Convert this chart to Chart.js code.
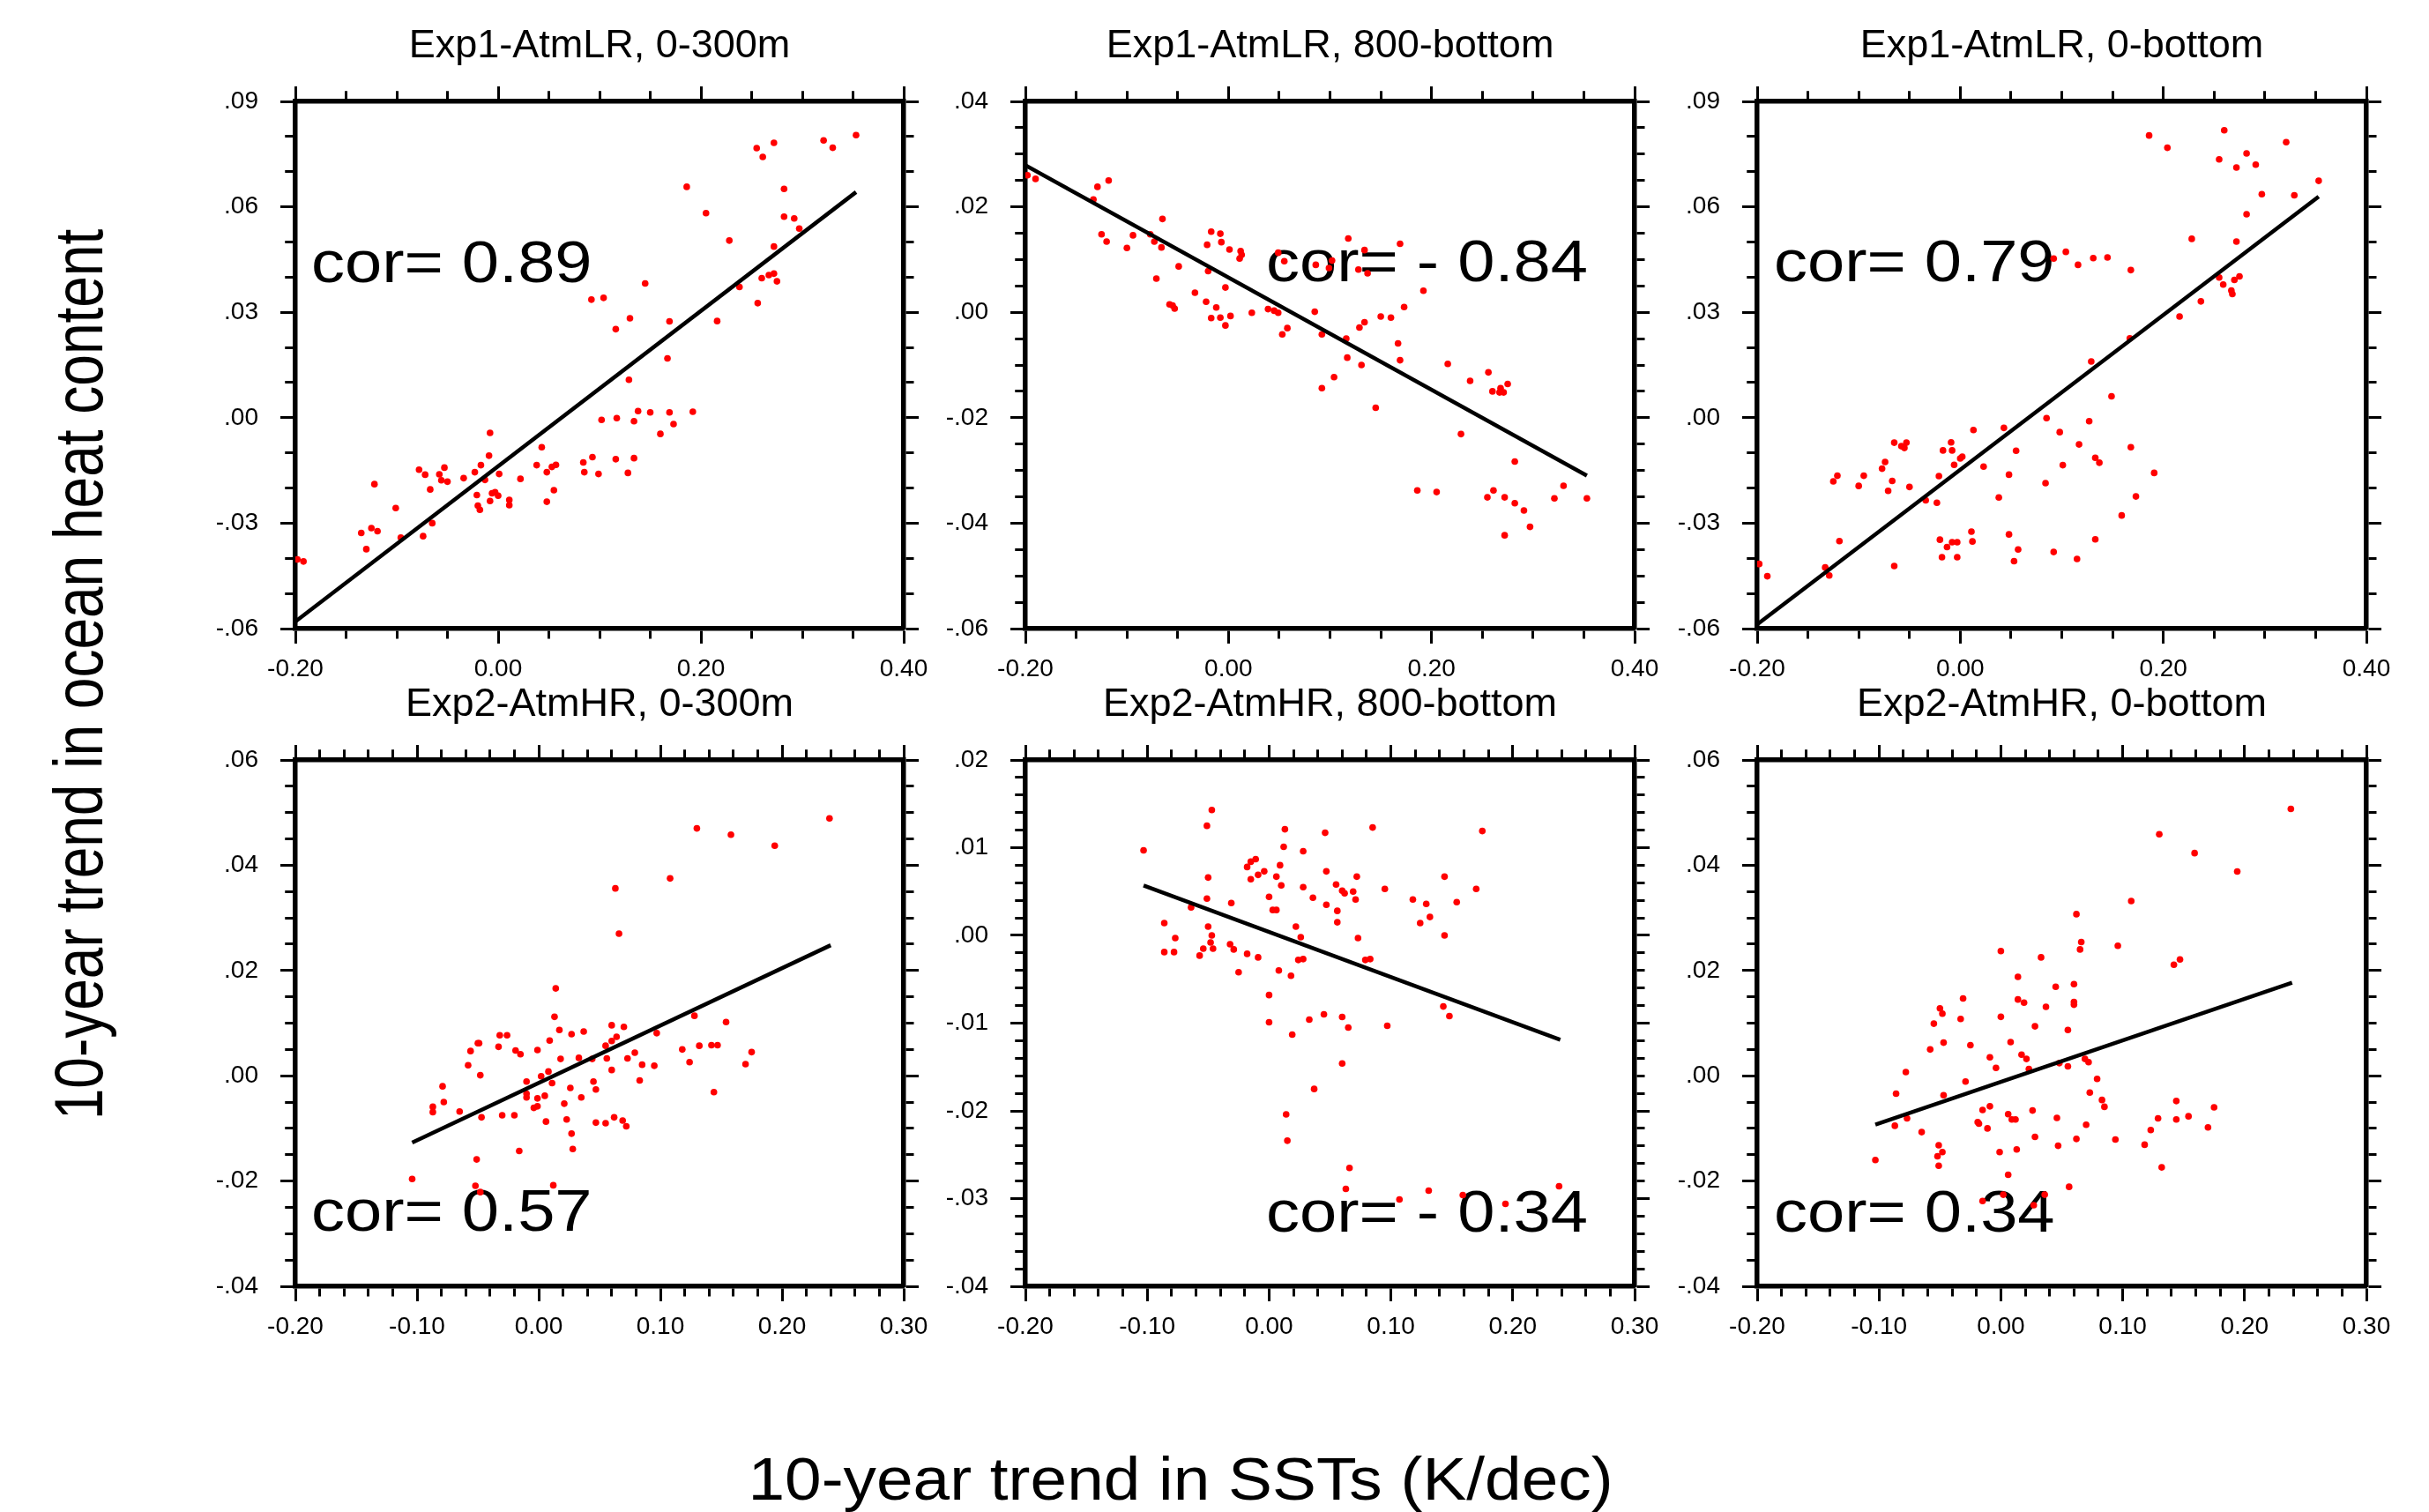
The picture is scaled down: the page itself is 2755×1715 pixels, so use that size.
<!DOCTYPE html>
<html>
<head>
<meta charset="utf-8">
<title>OHC vs SST trends</title>
<script src="https://cdn.jsdelivr.net/npm/chart.js@4.4.1/dist/chart.umd.min.js"></script>
<style>
  html, body { margin: 0; padding: 0; background: #fff; }
  #page { position: relative; width: 2755px; height: 1715px; overflow: hidden; font-family: "Liberation Sans", Arial, sans-serif; }
  .panel { position: absolute; }
  .axis-label { position: absolute; white-space: nowrap; line-height: 1; color: #000; }
  #yLabel { left: 89px; top: 765px; font-size: 64px; transform: translate(-50%, -50%) rotate(-90deg) scaleY(1.22); }
  #xLabel { left: 1339px; top: 1677px; font-size: 68px; transform: translate(-50%, -50%) scaleX(1.1); }
</style>
</head>
<body>
<div id="page">
  <div class="axis-label" id="yLabel">10-year trend in ocean heat content</div>
  <div class="axis-label" id="xLabel">10-year trend in SSTs (K/dec)</div>
</div>
<script>
// Panel titles and correlation labels
const panelTitles = ['Exp1-AtmLR, 0-300m', 'Exp1-AtmLR, 800-bottom', 'Exp1-AtmLR, 0-bottom',
                     'Exp2-AtmHR, 0-300m', 'Exp2-AtmHR, 800-bottom', 'Exp2-AtmHR, 0-bottom'];
const corLabels = ['cor= 0.89', 'cor= - 0.84', 'cor= 0.79', 'cor= 0.57', 'cor= - 0.34', 'cor= 0.34'];

// Exp1-AtmLR, 0-300m
const lrShallowX = [-0.198,-0.192,-0.135,-0.130,-0.125,-0.119,-0.122,-0.101,-0.096,-0.074,
  -0.065,-0.078,-0.072,-0.067,-0.058,-0.053,-0.056,-0.050,-0.034,-0.023,
  -0.017,-0.009,-0.008,-0.013,-0.021,-0.020,-0.018,-0.008,-0.006,-0.003,
  0.000,0.001,0.011,0.011,0.022,0.038,0.043,0.048,0.053,0.057,
  0.055,0.048,0.084,0.085,0.093,0.099,0.102,0.116,0.117,0.128,
  0.134,0.134,0.138,0.150,0.160,0.169,0.173,0.192,0.167,0.129,
  0.116,0.130,0.092,0.104,0.145,0.169,0.216,0.238,0.256,0.260,
  0.267,0.272,0.275,0.272,0.228,0.205,0.186,0.282,0.282,0.292,
  0.297,0.255,0.261,0.272,0.321,0.330,0.353];
const lrShallowY = [-0.0403,-0.0409,-0.0328,-0.0374,-0.0314,-0.0323,-0.0189,-0.0257,-0.0341,-0.0337,
  -0.0300,-0.0148,-0.0162,-0.0204,-0.0161,-0.0142,-0.0178,-0.0182,-0.0172,-0.0155,
  -0.0135,-0.0108,-0.0043,-0.0177,-0.0220,-0.0250,-0.0262,-0.0237,-0.0215,-0.0212,
  -0.0222,-0.0160,-0.0234,-0.0249,-0.0174,-0.0135,-0.0084,-0.0155,-0.0140,-0.0134,
  -0.0206,-0.0239,-0.0127,-0.0155,-0.0112,-0.0160,-0.0006,-0.0118,-0.0001,-0.0157,
  -0.0115,-0.0010,0.0019,0.0015,-0.0046,0.0015,-0.0018,0.0017,0.0169,0.0108,
  0.0252,0.0283,0.0336,0.0341,0.0382,0.0274,0.0275,0.0372,0.0326,0.0397,
  0.0406,0.0410,0.0388,0.0487,0.0504,0.0582,0.0657,0.0651,0.0572,0.0567,
  0.0538,0.0767,0.0742,0.0782,0.0789,0.0768,0.0804];
const lrShallowFitX = [-0.2, 0.353];
const lrShallowFitY = [-0.058, 0.0642];

// Exp1-AtmLR, 800-bottom
const lrDeepX = [-0.198,-0.190,-0.133,-0.129,-0.118,-0.125,-0.120,-0.100,-0.094,-0.077,
  -0.073,-0.066,-0.065,-0.071,-0.049,-0.058,-0.053,-0.055,-0.033,-0.022,
  -0.012,-0.017,-0.008,-0.003,0.002,-0.020,-0.021,-0.017,-0.008,-0.007,
  0.001,0.012,0.013,0.011,-0.003,0.023,0.039,0.045,0.049,0.049,
  0.055,0.058,0.053,0.085,0.086,0.099,0.102,0.092,0.116,0.118,
  0.128,0.134,0.137,0.134,0.129,0.117,0.131,0.104,0.092,0.150,
  0.160,0.173,0.169,0.192,0.167,0.169,0.145,0.216,0.238,0.256,
  0.260,0.267,0.268,0.271,0.275,0.229,0.282,0.186,0.205,0.255,
  0.261,0.272,0.282,0.291,0.297,0.272,0.321,0.330,0.353];
const lrDeepY = [0.0260,0.0253,0.0214,0.0238,0.0250,0.0148,0.0134,0.0122,0.0146,0.0148,
  0.0134,0.0123,0.0177,0.0064,0.0087,0.0015,0.0007,0.0013,0.0037,0.0020,
  0.0009,-0.0011,-0.0010,-0.0025,-0.0007,0.0078,0.0128,0.0153,0.0149,0.0133,
  0.0119,0.0116,0.0109,0.0102,0.0047,-0.0001,0.0006,0.0003,-0.0001,0.0113,
  0.0097,-0.0030,-0.0042,0.0001,0.0090,0.0084,0.0098,-0.0042,-0.0050,0.0140,
  0.0081,0.0118,0.0074,-0.0019,-0.0029,-0.0086,-0.0100,-0.0123,-0.0144,-0.0008,
  -0.0010,0.0010,0.0130,0.0041,-0.0059,-0.0091,-0.0181,-0.0098,-0.0130,-0.0114,
  -0.0150,-0.0152,-0.0144,-0.0152,-0.0136,-0.0231,-0.0283,-0.0338,-0.0341,-0.0351,
  -0.0338,-0.0351,-0.0362,-0.0376,-0.0407,-0.0423,-0.0353,-0.0329,-0.0353];
const lrDeepFitX = [-0.2, 0.353];
const lrDeepFitY = [0.0279, -0.0310];

// Exp1-AtmLR, 0-bottom
const lrFullX = [-0.198,-0.190,-0.133,-0.129,-0.119,-0.125,-0.121,-0.100,-0.095,-0.077,
  -0.074,-0.071,-0.067,-0.065,-0.058,-0.055,-0.053,-0.050,-0.065,-0.034,
  -0.023,-0.021,-0.017,-0.008,-0.009,-0.006,0.000,0.002,0.013,0.023,
  -0.020,-0.013,-0.008,-0.003,-0.018,-0.003,0.011,0.012,0.038,0.043,
  0.048,0.048,0.055,0.057,0.053,0.085,0.084,0.092,0.098,0.101,
  0.115,0.117,0.127,0.133,0.137,0.133,0.159,0.168,0.173,0.149,
  0.191,0.129,0.167,0.092,0.104,0.116,0.131,0.145,0.168,0.216,
  0.237,0.228,0.255,0.259,0.267,0.268,0.270,0.275,0.272,0.282,
  0.297,0.329,0.353,0.186,0.204,0.255,0.260,0.272,0.282,0.291,
  0.321];
const lrFullY = [-0.0416,-0.0451,-0.0426,-0.0449,-0.0351,-0.0181,-0.0165,-0.0194,-0.0165,-0.0145,
  -0.0126,-0.0208,-0.0180,-0.0071,-0.0081,-0.0086,-0.0071,-0.0197,-0.0422,-0.0235,
  -0.0242,-0.0166,-0.0093,-0.0093,-0.0070,-0.0134,-0.0116,-0.0111,-0.0035,-0.0139,
  -0.0347,-0.0368,-0.0354,-0.0354,-0.0397,-0.0397,-0.0324,-0.0352,-0.0227,-0.0029,
  -0.0162,-0.0332,-0.0094,-0.0375,-0.0408,-0.0001,-0.0186,-0.0382,-0.0041,-0.0135,
  -0.0402,-0.0076,-0.0010,-0.0114,-0.0128,-0.0346,-0.0278,-0.0084,-0.0224,0.0061,
  -0.0157,0.0160,0.0226,0.0453,0.0472,0.0435,0.0454,0.0456,0.0420,0.0288,
  0.0331,0.0509,0.0399,0.0379,0.0362,0.0352,0.0392,0.0402,0.0501,0.0579,
  0.0636,0.0633,0.0674,0.0803,0.0768,0.0735,0.0818,0.0712,0.0752,0.0720,
  0.0784];
const lrFullFitX = [-0.2, 0.353];
const lrFullFitY = [-0.0588, 0.0629];

// Exp2-AtmHR, 0-300m
const hrShallowX = [-0.104,-0.087,-0.087,-0.079,-0.078,-0.065,-0.058,-0.056,-0.050,-0.049,
  -0.048,-0.051,-0.052,-0.048,-0.047,-0.033,-0.032,-0.026,-0.030,-0.020,
  -0.019,-0.015,-0.016,-0.010,-0.010,-0.010,-0.004,-0.001,-0.001,-0.001,
  0.002,0.005,0.006,0.008,0.009,0.011,0.013,0.014,0.012,0.017,
  0.018,0.021,0.023,0.026,0.027,0.027,0.028,0.033,0.035,0.037,
  0.044,0.045,0.047,0.047,0.055,0.055,0.056,0.060,0.060,0.060,
  0.062,0.063,0.064,0.066,0.069,0.070,0.072,0.073,0.079,0.083,
  0.085,0.095,0.097,0.108,0.118,0.124,0.128,0.130,0.132,0.142,
  0.147,0.144,0.154,0.158,0.170,0.175,0.194,0.239];
const hrShallowY = [-0.0196,-0.0059,-0.0069,-0.0020,-0.0050,-0.0068,0.0020,0.0047,0.0062,0.0062,
  0.0001,-0.0159,-0.0209,-0.0221,-0.0079,0.0055,0.0077,0.0077,-0.0075,-0.0075,
  0.0048,0.0041,-0.0143,-0.0011,-0.0034,-0.0041,-0.0061,-0.0058,-0.0043,0.0049,
  -0.0001,-0.0038,-0.0087,0.0008,0.0067,-0.0014,0.0112,0.0166,-0.0208,0.0087,
  0.0032,-0.0053,-0.0083,-0.0023,0.0079,-0.0110,-0.0139,0.0034,-0.0041,0.0084,
  0.0032,-0.0011,-0.0026,-0.0089,-0.0090,0.0057,0.0033,0.0066,0.0096,0.0011,
  -0.0079,0.0356,0.0074,0.0270,-0.0085,0.0093,-0.0096,0.0033,0.0044,-0.0009,
  0.0021,0.0019,0.0081,0.0375,0.0050,0.0026,0.0114,0.0470,0.0057,0.0058,
  0.0058,-0.0031,0.0102,0.0458,0.0022,0.0045,0.0437,0.0489];
const hrShallowFitX = [-0.104, 0.240];
const hrShallowFitY = [-0.0127, 0.0248];

// Exp2-AtmHR, 800-bottom
const hrDeepX = [-0.103,-0.086,-0.086,-0.078,-0.077,-0.064,-0.057,-0.054,-0.051,-0.047,
  -0.050,-0.051,-0.050,-0.047,-0.048,-0.046,-0.032,-0.031,-0.029,-0.025,
  -0.018,-0.015,-0.011,-0.015,-0.009,-0.004,-0.018,-0.009,0.000,0.003,
  0.006,0.006,0.009,0.010,0.012,0.013,0.008,0.018,0.000,0.000,
  0.019,0.014,0.015,0.022,0.026,0.024,0.028,0.028,0.028,0.036,
  0.033,0.037,0.045,0.046,0.047,0.047,0.055,0.056,0.056,0.060,
  0.062,0.069,0.071,0.072,0.073,0.060,0.065,0.060,0.066,0.063,
  0.079,0.083,0.085,0.095,0.097,0.107,0.118,0.124,0.129,0.132,
  0.131,0.144,0.144,0.154,0.143,0.148,0.159,0.170,0.175,0.194,
  0.238];
const hrDeepY = [0.0097,0.0014,-0.0019,-0.0019,-0.0003,0.0032,-0.0023,-0.0015,0.0125,0.0143,
  0.0066,0.0042,0.0010,0.0000,-0.0008,-0.0015,-0.0010,0.0037,-0.0016,-0.0042,
  0.0078,0.0084,0.0087,0.0064,0.0069,0.0073,-0.0021,-0.0025,0.0044,0.0029,
  0.0029,0.0067,0.0080,0.0057,0.0101,0.0121,-0.0040,-0.0046,-0.0068,-0.0099,
  -0.0113,-0.0204,-0.0234,0.0010,-0.0002,-0.0028,-0.0027,0.0096,0.0055,0.0043,
  -0.0096,-0.0175,-0.0090,0.0117,0.0073,0.0035,0.0058,0.0028,0.0015,0.0051,
  0.0048,0.0050,0.0041,0.0067,-0.0003,-0.0093,-0.0105,-0.0146,-0.0265,-0.0289,
  -0.0028,-0.0027,0.0123,0.0053,-0.0103,-0.0301,0.0041,0.0014,0.0036,0.0021,
  -0.0291,0.0067,0.0000,0.0038,-0.0081,-0.0092,-0.0296,0.0053,0.0119,-0.0306,
  -0.0286];
const hrDeepFitX = [-0.103, 0.239];
const hrDeepFitY = [0.0057, -0.0119];

// Exp2-AtmHR, 0-bottom
const hrFullX = [-0.103,-0.087,-0.086,-0.078,-0.077,-0.065,-0.058,-0.055,-0.050,-0.048,
  -0.047,-0.047,-0.051,-0.048,-0.052,-0.051,-0.033,-0.031,-0.029,-0.025,
  -0.019,-0.018,-0.015,-0.011,-0.009,-0.009,-0.004,-0.015,0.000,0.000,
  -0.001,0.002,0.006,0.006,0.008,0.009,0.012,0.014,0.014,0.013,
  0.017,0.019,0.021,0.023,0.026,0.028,0.028,0.027,0.033,0.036,
  0.037,0.045,0.046,0.047,0.048,0.055,0.055,0.056,0.060,0.060,
  0.060,0.062,0.066,0.065,0.062,0.069,0.072,0.079,0.073,0.083,
  0.085,0.070,0.094,0.096,0.107,0.118,0.123,0.129,0.132,0.130,
  0.142,0.147,0.144,0.144,0.154,0.159,0.170,0.175,0.194,0.238];
const hrFullY = [-0.0160,-0.0095,-0.0034,0.0007,-0.0081,-0.0107,0.0050,0.0099,0.0128,0.0118,
  0.0063,-0.0037,-0.0132,-0.0145,-0.0153,-0.0171,0.0108,0.0147,-0.0011,0.0058,
  -0.0088,-0.0091,-0.0065,-0.0100,0.0035,-0.0058,0.0015,-0.0238,0.0237,0.0112,
  -0.0145,-0.0226,-0.0073,-0.0188,0.0064,-0.0083,-0.0083,0.0145,0.0188,-0.0140,
  0.0040,0.0139,0.0032,0.0013,-0.0066,0.0094,-0.0116,-0.0246,0.0225,-0.0226,
  0.0131,0.0169,-0.0080,-0.0133,0.0024,0.0087,0.0018,-0.0211,0.0174,0.0140,
  0.0135,0.0307,0.0254,0.0240,-0.0120,0.0032,0.0026,-0.0006,-0.0032,-0.0046,
  -0.0059,-0.0093,-0.0121,0.0247,0.0332,-0.0131,-0.0103,-0.0081,-0.0174,0.0459,
  0.0211,0.0221,-0.0048,-0.0083,-0.0077,0.0423,-0.0098,-0.0060,0.0388,0.0507];
const hrFullFitX = [-0.103, 0.239];
const hrFullFitY = [-0.0093, 0.0177];

// Axis ranges: [min, max] and [major step, minor step]
const lrXRange = [-0.2, 0.4];
const lrXSteps = [0.2, 0.05];
const hrXRange = [-0.2, 0.3];
const hrXSteps = [0.1, 0.02];
const yRanges = [[-0.06, 0.09], [-0.06, 0.04], [-0.06, 0.09], [-0.04, 0.06], [-0.04, 0.02], [-0.04, 0.06]];
const ySteps = [[0.03, 0.01], [0.02, 0.005], [0.03, 0.01], [0.02, 0.005], [0.01, 0.002], [0.02, 0.005]];

const panelX = [lrShallowX, lrDeepX, lrFullX, hrShallowX, hrDeepX, hrFullX];
const panelY = [lrShallowY, lrDeepY, lrFullY, hrShallowY, hrDeepY, hrFullY];
const fitX = [lrShallowFitX, lrDeepFitX, lrFullFitX, hrShallowFitX, hrDeepFitX, hrFullFitX];
const fitY = [lrShallowFitY, lrDeepFitY, lrFullFitY, hrShallowFitY, hrDeepFitY, hrFullFitY];

// Layout (page pixels)
const FONT = '"Liberation Sans", Arial, sans-serif';
const plotLefts = [335, 1163, 1993];
const plotWidths = [690, 691, 691];
const plotTops = [115, 862];
const plotHeights = [598, 597];
const AXIS_L = 110, AXIS_R = 50, TITLE_H = 55, AXIS_T = 35, AXIS_B = 70;
const TICK = 17, MINOR = 9, BORDER = 5.5;
// where the "cor=" text sits inside each plot box (left, baseline)
const corPos = [[18, 205], [273, 204], [19, 204], [18, 534], [273, 535], [19, 535]];

function isMajor(v, major) {
    const k = v / major;
    return Math.abs(k - Math.round(k)) < 1e-6;
}

function fmtY(v) {
    return v.toFixed(2).replace(/^(-?)0\./, '$1.');
}

function fmtX(v) {
    return v.toFixed(2);
}

function minorDash(position) {
    // top/left tick marks are stroked from the outer end towards the frame
    const len = TICK - BORDER / 2;
    if (position === 'top' || position === 'left') return [0, len - MINOR, MINOR, 100];
    return [MINOR, 100];
}

function makeAxis(axis, position, range, steps, showLabels, size, format) {
    return {
        type: 'linear',
        axis: axis,
        position: position,
        min: range[0],
        max: range[1],
        afterFit: s => { if (axis === 'x') s.height = size; else s.width = size; },
        border: { display: true, color: '#000', width: BORDER },
        grid: {
            drawOnChartArea: false,
            drawTicks: true,
            tickLength: TICK,
            tickWidth: 3,
            tickColor: '#000',
            tickBorderDash: c => (c.tick && !isMajor(c.tick.value, steps[0])) ? minorDash(position) : []
        },
        ticks: {
            display: showLabels,
            stepSize: steps[1],
            maxTicksLimit: 200,
            autoSkip: false,
            maxRotation: 0,
            minRotation: 0,
            padding: axis === 'x' ? 12 : 25,
            color: '#000',
            font: { family: FONT, size: 28 },
            callback: v => isMajor(v, steps[0]) ? format(v) : ''
        }
    };
}

function buildPanel(i) {
    const col = i % 3, row = Math.floor(i / 3);
    const xRange = row === 0 ? lrXRange : hrXRange;
    const xSteps = row === 0 ? lrXSteps : hrXSteps;
    const w = plotWidths[col] + AXIS_L + AXIS_R;
    const h = plotHeights[row] + TITLE_H + AXIS_T + AXIS_B;

    const holder = document.createElement('div');
    holder.className = 'panel';
    holder.style.left = (plotLefts[col] - AXIS_L) + 'px';
    holder.style.top = (plotTops[row] - TITLE_H - AXIS_T) + 'px';
    const canvas = document.createElement('canvas');
    canvas.width = w;
    canvas.height = h;
    canvas.style.width = w + 'px';
    canvas.style.height = h + 'px';
    holder.appendChild(canvas);
    document.getElementById('page').appendChild(holder);

    const points = panelX[i].map((x, k) => ({ x: x, y: panelY[i][k] }));
    const fit = fitX[i].map((x, k) => ({ x: x, y: fitY[i][k] }));

    const corText = {
        id: 'corText',
        beforeDatasetsDraw(chart) {
            const { ctx, chartArea } = chart;
            ctx.save();
            ctx.font = '66px ' + FONT;
            ctx.fillStyle = '#000';
            ctx.textBaseline = 'alphabetic';
            ctx.translate(chartArea.left + corPos[i][0], chartArea.top + corPos[i][1]);
            ctx.scale(1.15, 1);
            ctx.fillText(corLabels[i], 0, 0);
            ctx.restore();
        }
    };

    new Chart(canvas.getContext('2d'), {
        type: 'scatter',
        data: {
            datasets: [
                { data: fit, showLine: true, borderColor: '#000', borderWidth: 4.5, pointRadius: 0, fill: false },
                { data: points, pointRadius: 3.8, pointBackgroundColor: '#ff0000', pointBorderWidth: 0, showLine: false }
            ]
        },
        options: {
            responsive: false,
            animation: false,
            devicePixelRatio: 1,
            layout: { padding: 0 },
            scales: {
                x: makeAxis('x', 'bottom', xRange, xSteps, true, AXIS_B, fmtX),
                x2: makeAxis('x', 'top', xRange, xSteps, false, AXIS_T, fmtX),
                y: makeAxis('y', 'left', yRanges[i], ySteps[i], true, AXIS_L, fmtY),
                y2: makeAxis('y', 'right', yRanges[i], ySteps[i], false, AXIS_R, fmtY)
            },
            plugins: {
                legend: { display: false },
                tooltip: { enabled: false },
                title: {
                    display: true,
                    text: panelTitles[i],
                    fullSize: false,
                    color: '#000',
                    padding: { top: 0, bottom: 0 },
                    font: { family: FONT, size: 45, weight: 'normal', lineHeight: '55px' }
                }
            }
        },
        plugins: [corText]
    });
}

for (let i = 0; i < 6; i++) buildPanel(i);
</script>
</body>
</html>
